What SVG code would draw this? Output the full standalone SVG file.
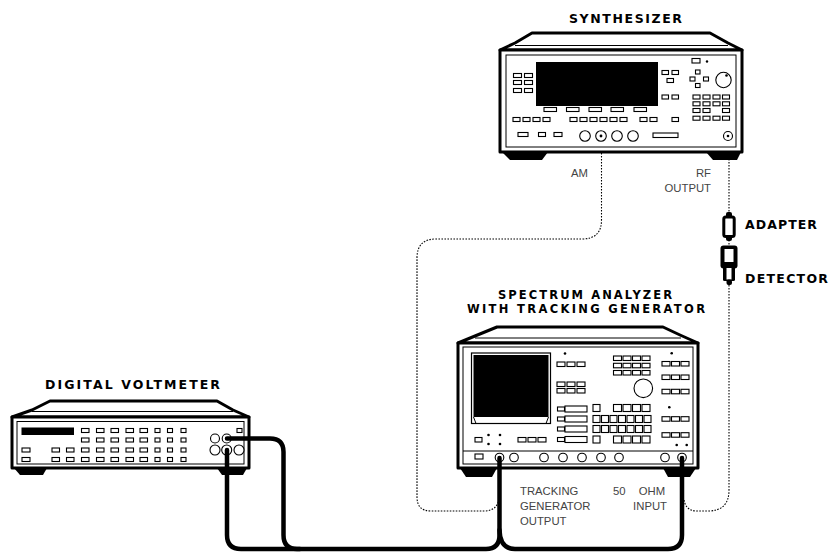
<svg xmlns="http://www.w3.org/2000/svg" width="829" height="555" viewBox="0 0 829 555">
<style>
.o{fill:#fff;stroke:#000;stroke-width:3;stroke-linejoin:round}
.t{fill:none;stroke:#000;stroke-width:1}
.k{fill:#fff;stroke:#000;stroke-width:1.1}
.b{fill:#000}
.cab{fill:none;stroke:#000;stroke-width:4.5;stroke-linecap:round}
.dot{fill:none;stroke:#000;stroke-width:1.1;stroke-dasharray:1.6 1.4}
.lbl{font-family:"Liberation Sans",Arial,sans-serif;font-size:11.3px;fill:#444}
.ttl{font-family:"DejaVu Sans",sans-serif;font-weight:bold;font-size:12.5px;fill:#000}
.ttl2{font-family:"DejaVu Sans",sans-serif;font-weight:bold;font-size:11.5px;fill:#000}
.c{fill:#fff;stroke:#000;stroke-width:1.1}
</style>
<rect width="829" height="555" fill="#fff"/>

<g id="connectors-dotted">
<path class="dot" d="M601.5 141 V220 Q601.5 239 582 239 H436 Q417 239 417 258 V497 Q417 511 431 511 H484 Q497 511 499 499"/>
<path class="dot" d="M729 141 V490 Q729 511 708 511 H697 Q686 511 684 500"/>
</g>

<g id="synthesizer">
<text class="ttl" x="569" y="23" textLength="113" lengthAdjust="spacing">SYNTHESIZER</text>
<path class="o" d="M500 50 L515 43 L532 33 L710 33 L728 43 L742 50 Z"/>
<path class="t" d="M515 45.5 H728"/>
<rect class="o" x="500" y="50" width="242" height="102"/>
<rect class="t" x="506" y="55" width="230" height="92"/>
<polygon class="b" points="502,152 548,152 542,160 510,160"/>
<polygon class="b" points="706,152 741,152 737,160 713,160"/>
<rect class="b" x="536" y="62" width="122" height="44"/>
<g>
<rect class="k" x="513.5" y="73.5" width="8" height="4"/><rect class="k" x="524.5" y="73.5" width="8" height="4"/>
<rect class="k" x="513.5" y="80.5" width="8" height="4"/><rect class="k" x="524.5" y="80.5" width="8" height="4"/>
<rect class="k" x="513.5" y="88.5" width="8" height="4"/><rect class="k" x="524.5" y="88.5" width="8" height="4"/>
<rect class="k" x="544" y="107.5" width="12.5" height="4"/><rect class="k" x="566.5" y="107.5" width="12.5" height="4"/>
<rect class="k" x="589" y="107.5" width="12.5" height="4"/><rect class="k" x="611" y="107.5" width="12.5" height="4"/>
<rect class="k" x="634" y="107.5" width="12.5" height="4"/>
<rect class="k" x="513" y="117.5" width="7" height="4"/><rect class="k" x="523" y="117.5" width="7" height="4"/>
<rect class="k" x="533" y="117.5" width="7" height="4"/><rect class="k" x="543" y="117.5" width="7" height="4"/>
<rect class="k" x="570" y="117.5" width="7" height="4"/><rect class="k" x="580" y="117.5" width="7" height="4"/>
<rect class="k" x="590" y="117.5" width="7" height="4"/><rect class="k" x="600" y="117.5" width="7" height="4"/>
<rect class="k" x="610" y="117.5" width="7" height="4"/><rect class="k" x="620" y="117.5" width="7" height="4"/>
<rect class="k" x="640" y="117.5" width="7" height="4"/><rect class="k" x="650" y="117.5" width="7" height="4"/>
<rect class="k" x="672" y="117.5" width="6.5" height="4"/>
<rect class="k" x="518" y="132.5" width="10" height="4"/><rect class="k" x="538.5" y="132.5" width="7" height="4"/>
<rect class="k" x="554" y="132.5" width="8" height="4"/>
<rect class="k" x="653" y="133" width="25" height="4.5"/>
<circle class="c" cx="585" cy="136" r="5.3"/><circle class="c" cx="601" cy="136" r="5.3"/>
<circle class="c" cx="617" cy="136" r="5.3"/><circle class="c" cx="633" cy="136" r="5.3"/>
<circle class="b" cx="601" cy="136" r="1.4"/>
<circle class="c" cx="728" cy="136" r="4.5"/><circle class="b" cx="728" cy="136" r="1.3"/>
<rect class="k" x="662" y="70.5" width="6.5" height="4"/><rect class="k" x="672" y="70.5" width="6.5" height="4"/>
<rect class="k" x="667" y="78.5" width="6.5" height="4"/>
<rect class="k" x="662" y="95" width="6.5" height="4"/><rect class="k" x="672" y="95" width="6.5" height="4"/>
<rect class="k" x="692" y="58.5" width="8" height="4.5"/><circle class="b" cx="707" cy="61.5" r="1.2"/>
<rect class="k" x="695.5" y="70" width="4.5" height="4"/><rect class="k" x="690" y="77" width="5" height="4"/>
<rect class="k" x="703.5" y="77" width="5" height="4"/><rect class="k" x="695.5" y="83.5" width="4.5" height="4"/>
<circle class="c" cx="723.5" cy="80" r="7.7"/><circle class="b" cx="726.5" cy="75.5" r="1.3"/>
<rect class="k" x="693" y="95" width="7" height="4"/><rect class="k" x="703" y="95" width="7" height="4"/>
<rect class="k" x="713" y="95" width="7" height="4"/><rect class="k" x="722.5" y="95" width="7" height="4"/>
<rect class="k" x="693" y="101.8" width="7" height="4"/><rect class="k" x="703" y="101.8" width="7" height="4"/>
<rect class="k" x="713" y="101.8" width="7" height="4"/><rect class="k" x="722.5" y="101.8" width="7" height="4"/>
<rect class="k" x="693" y="108.5" width="7" height="4"/><rect class="k" x="703" y="108.5" width="7" height="4"/>
<rect class="k" x="722.5" y="108.5" width="7" height="4"/>
<rect class="k" x="693" y="116.2" width="7" height="4"/><rect class="k" x="703" y="116.2" width="7" height="4"/>
<rect class="k" x="713" y="116.2" width="7" height="4"/><rect class="k" x="722.5" y="116.2" width="7" height="4"/>
</g>
<text class="lbl" x="571" y="177">AM</text>
<text class="lbl" x="711" y="177" text-anchor="end">RF</text>
<text class="lbl" x="711" y="192" text-anchor="end">OUTPUT</text>
</g>

<g id="adapter">
<rect class="b" x="726" y="212" width="6" height="6" rx="2"/>
<rect x="723.8" y="217" width="10.4" height="19.5" rx="2" fill="#fff" stroke="#000" stroke-width="3"/>
<rect class="b" x="726" y="235.5" width="6" height="5.5" rx="2"/>
<text class="ttl" x="745" y="228.5" textLength="72" lengthAdjust="spacing">ADAPTER</text>
</g>

<g id="detector">
<rect class="b" x="720.5" y="245.5" width="17" height="23" rx="3"/>
<rect x="724.5" y="249" width="9" height="13" fill="#fff"/>
<rect class="b" x="723" y="266" width="12" height="15" rx="1.5"/>
<rect x="726.5" y="268" width="5" height="11.5" fill="#fff"/>
<rect class="b" x="726.5" y="279.5" width="5.5" height="5.5" rx="2"/>
<text class="ttl" x="745" y="283" textLength="83" lengthAdjust="spacing">DETECTOR</text>
</g>

<g id="spectrum-analyzer">
<text class="ttl2" x="498" y="299" textLength="174" lengthAdjust="spacing">SPECTRUM ANALYZER</text>
<text class="ttl2" x="467" y="312.8" textLength="238" lengthAdjust="spacing">WITH TRACKING GENERATOR</text>
<path class="o" d="M458 343 L475 336 L497 327 L663 327 L680 335 L698 343 Z"/>
<path class="t" d="M475 338 H681"/>
<rect class="o" x="458" y="343" width="240" height="125"/>
<rect class="t" x="463" y="347" width="230" height="117"/>
<path class="t" d="M463 451 H693"/>
<polygon class="b" points="460,468 497,468 492,477 466,477"/>
<polygon class="b" points="663,468 696,468 690,477 668,477"/>
<rect x="471.5" y="353" width="79" height="70.5" fill="#fff" stroke="#000" stroke-width="1.2"/>
<rect class="b" x="473.5" y="355" width="75" height="62"/>
<path class="t" d="M473.5 417 L476 423.5 M548.5 417 L546 423.5"/>
<circle class="b" cx="565" cy="353.5" r="1.3"/>
<g>
<rect class="k" x="557" y="362" width="8" height="4.5"/><rect class="k" x="567" y="362" width="8" height="4.5"/><rect class="k" x="577" y="362" width="8" height="4.5"/>
<rect class="k" x="557" y="382" width="8" height="4.5"/><rect class="k" x="567" y="382" width="8" height="4.5"/><rect class="k" x="577" y="382" width="8" height="4.5"/>
<rect class="k" x="557" y="388.5" width="8" height="4.5"/><rect class="k" x="567" y="388.5" width="8" height="4.5"/><rect class="k" x="577" y="388.5" width="8" height="4.5"/>
<rect class="k" x="557.5" y="407" width="7" height="4"/><rect class="k" x="565" y="406" width="22" height="6"/>
<rect class="k" x="557.5" y="417" width="7" height="4"/><rect class="k" x="565" y="416" width="22" height="6"/>
<rect class="k" x="557.5" y="427" width="7" height="4"/><rect class="k" x="565" y="426" width="22" height="6"/>
<rect class="k" x="557.5" y="437.5" width="7" height="4"/><rect class="k" x="565" y="436.5" width="22" height="6"/>
<rect class="k" x="475" y="437.5" width="7" height="4.5"/>
<circle class="b" cx="488.5" cy="435" r="1.3"/><circle class="b" cx="500" cy="435" r="1.3"/>
<circle class="b" cx="488.5" cy="444" r="1.3"/><circle class="b" cx="500" cy="444" r="1.3"/>
<rect class="k" x="518" y="437.5" width="8" height="4.5"/><rect class="k" x="528" y="437.5" width="8" height="4.5"/><rect class="k" x="538" y="437.5" width="8" height="4.5"/>
<rect class="k" x="613.5" y="356" width="8" height="4.5"/><rect class="k" x="623" y="356" width="8" height="4.5"/><rect class="k" x="632.5" y="356" width="8" height="4.5"/><rect class="k" x="642" y="356" width="8" height="4.5"/>
<rect class="k" x="613.5" y="363.3" width="8" height="4.5"/><rect class="k" x="623" y="363.3" width="8" height="4.5"/><rect class="k" x="632.5" y="363.3" width="8" height="4.5"/><rect class="k" x="642" y="363.3" width="8" height="4.5"/>
<rect class="k" x="613.5" y="370.5" width="8" height="4.5"/><rect class="k" x="623" y="370.5" width="8" height="4.5"/><rect class="k" x="632.5" y="370.5" width="8" height="4.5"/><rect class="k" x="642" y="370.5" width="8" height="4.5"/>
<circle class="c" cx="643.3" cy="388.3" r="9.3"/>
<circle class="b" cx="671.7" cy="353.3" r="1.3"/><circle class="b" cx="669.3" cy="407.3" r="1.3"/>
<circle class="b" cx="676.7" cy="445" r="1.3"/><circle class="b" cx="686.7" cy="445" r="1.3"/>
<rect class="k" x="662" y="361.5" width="8" height="4.5"/><rect class="k" x="671.5" y="361.5" width="8" height="4.5"/><rect class="k" x="681" y="361.5" width="8" height="4.5"/>
<rect class="k" x="662" y="375" width="8" height="4.5"/><rect class="k" x="671.5" y="375" width="8" height="4.5"/><rect class="k" x="681" y="375" width="8" height="4.5"/>
<rect class="k" x="662" y="389.3" width="8" height="4.5"/><rect class="k" x="671.5" y="389.3" width="8" height="4.5"/><rect class="k" x="681" y="389.3" width="8" height="4.5"/>
<rect class="k" x="662" y="416.7" width="8" height="4.5"/><rect class="k" x="671.5" y="416.7" width="8" height="4.5"/><rect class="k" x="681" y="416.7" width="8" height="4.5"/>
<rect class="k" x="662" y="432.7" width="8" height="4.5"/><rect class="k" x="671.5" y="432.7" width="8" height="4.5"/><rect class="k" x="681" y="432.7" width="8" height="4.5"/>
<rect class="k" x="593" y="404.5" width="7" height="7"/>
<rect class="k" x="613.5" y="404.5" width="8" height="7"/><rect class="k" x="623" y="404.5" width="8" height="7"/><rect class="k" x="632.5" y="404.5" width="8" height="7"/><rect class="k" x="642" y="404.5" width="8" height="7"/>
<rect class="k" x="593" y="415.5" width="7" height="7"/><rect class="k" x="601.5" y="415.5" width="7" height="7"/><rect class="k" x="610" y="415.5" width="7" height="7"/><rect class="k" x="618.5" y="415.5" width="7" height="7"/><rect class="k" x="627" y="415.5" width="7" height="7"/><rect class="k" x="635.5" y="415.5" width="7" height="7"/><rect class="k" x="644" y="415.5" width="7" height="7"/>
<rect class="k" x="593" y="425.5" width="7" height="7"/><rect class="k" x="601.5" y="425.5" width="7" height="7"/><rect class="k" x="610" y="425.5" width="7" height="7"/><rect class="k" x="618.5" y="425.5" width="7" height="7"/><rect class="k" x="627" y="425.5" width="7" height="7"/><rect class="k" x="635.5" y="425.5" width="7" height="7"/><rect class="k" x="644" y="425.5" width="7" height="7"/>
<rect class="k" x="593" y="436" width="7" height="7"/>
<rect class="k" x="613.5" y="436" width="8" height="7"/><rect class="k" x="623" y="436" width="8" height="7"/><rect class="k" x="632.5" y="436" width="8" height="7"/><rect class="k" x="642" y="436" width="8" height="7"/>
<rect class="k" x="475" y="454" width="8" height="5"/>
<circle class="c" cx="499.5" cy="457.5" r="4.3"/><circle class="b" cx="499.5" cy="457.5" r="1.5"/>
<circle class="c" cx="514" cy="457.5" r="4.3"/><circle class="c" cx="544" cy="457.5" r="4.3"/>
<circle class="c" cx="563" cy="457.5" r="4.3"/><circle class="c" cx="582" cy="457.5" r="4.3"/>
<circle class="c" cx="601" cy="457.5" r="4.3"/><circle class="c" cx="619" cy="457.5" r="4.3"/>
<circle class="c" cx="665" cy="457.5" r="4.3"/>
<circle class="c" cx="682" cy="457.5" r="4.3"/><circle class="b" cx="682" cy="457.5" r="1.5"/>
</g>
<text class="lbl" x="520" y="495">TRACKING</text>
<text class="lbl" x="520" y="510">GENERATOR</text>
<text class="lbl" x="520" y="525">OUTPUT</text>
<text class="lbl" x="613" y="495" word-spacing="10">50 OHM</text>
<text class="lbl" x="667" y="510" text-anchor="end">INPUT</text>
</g>

<g id="digital-voltmeter">
<text class="ttl" x="45" y="389" textLength="175" lengthAdjust="spacing">DIGITAL VOLTMETER</text>
<path class="o" d="M12 417 L32 410 L50 401 L217 401 L233 410 L249 417 Z"/>
<path class="t" d="M32 411.5 H233"/>
<rect class="o" x="12" y="417" width="237" height="51"/>
<rect class="t" x="17" y="421.5" width="227" height="42.5"/>
<polygon class="b" points="14,468 47,468 43,475 20,475"/>
<polygon class="b" points="217,468 247,468 243,475 222,475"/>
<rect class="b" x="21.5" y="427.5" width="52.5" height="7.5"/>
<g>
<rect class="k" x="81.5" y="428.5" width="7.5" height="4"/><rect class="k" x="96.5" y="428.5" width="7.5" height="4"/><rect class="k" x="111" y="428.5" width="7.5" height="4"/><rect class="k" x="126" y="428.5" width="7.5" height="4"/><rect class="k" x="140" y="428.5" width="7.5" height="4"/><rect class="k" x="155" y="428.5" width="5" height="4"/><rect class="k" x="167.5" y="428.5" width="5" height="4"/><rect class="k" x="181" y="428.5" width="5" height="4"/>
<rect class="k" x="81.5" y="438" width="7.5" height="4"/><rect class="k" x="96.5" y="438" width="7.5" height="4"/><rect class="k" x="111" y="438" width="7.5" height="4"/><rect class="k" x="126" y="438" width="7.5" height="4"/><rect class="k" x="140" y="438" width="7.5" height="4"/><rect class="k" x="155" y="438" width="5" height="4"/><rect class="k" x="167.5" y="438" width="5" height="4"/><rect class="k" x="181" y="438" width="5" height="4"/>
<rect class="k" x="22" y="448" width="8" height="4"/><rect class="k" x="52" y="448" width="7.5" height="4"/><rect class="k" x="66.5" y="448" width="7.5" height="4"/>
<rect class="k" x="81.5" y="448" width="7.5" height="4"/><rect class="k" x="96.5" y="448" width="7.5" height="4"/><rect class="k" x="111" y="448" width="7.5" height="4"/><rect class="k" x="126" y="448" width="7.5" height="4"/><rect class="k" x="140" y="448" width="7.5" height="4"/><rect class="k" x="155" y="448" width="5" height="4"/><rect class="k" x="167.5" y="448" width="5" height="4"/><rect class="k" x="181" y="448" width="5" height="4"/>
<rect class="k" x="22" y="457.5" width="8" height="4"/><rect class="k" x="52" y="457.5" width="7.5" height="4"/><rect class="k" x="66.5" y="457.5" width="7.5" height="4"/>
<rect class="k" x="81.5" y="457.5" width="7.5" height="4"/><rect class="k" x="96.5" y="457.5" width="7.5" height="4"/><rect class="k" x="111" y="457.5" width="7.5" height="4"/><rect class="k" x="126" y="457.5" width="7.5" height="4"/><rect class="k" x="140" y="457.5" width="7.5" height="4"/><rect class="k" x="155" y="457.5" width="5" height="4"/><rect class="k" x="167.5" y="457.5" width="5" height="4"/><rect class="k" x="181" y="457.5" width="5" height="4"/>
<rect class="k" x="237" y="428.5" width="5" height="4"/>
<circle class="c" cx="215" cy="438.5" r="4.5"/><circle class="c" cx="226.7" cy="438.5" r="4.5"/>
<circle class="c" cx="215" cy="450" r="5"/><circle class="c" cx="226.7" cy="450" r="5"/><circle class="c" cx="239" cy="450" r="5"/>
<circle class="b" cx="226.7" cy="438.5" r="1.5"/><circle class="b" cx="226.7" cy="450" r="1.5"/>
</g>
</g>

<g id="cables">
<path class="cab" d="M227 438.5 H270 Q283.5 438.5 283.5 452 V535 Q283.5 549 297 549 H486 Q499.5 549 499.5 535 V458"/>
<path class="cab" d="M227 450 V535 Q227 549 241 549 H300"/>
<path class="cab" d="M499.5 530 Q500 549 515 549 H668 Q682 549 682 535 V458"/>
</g>
</svg>
